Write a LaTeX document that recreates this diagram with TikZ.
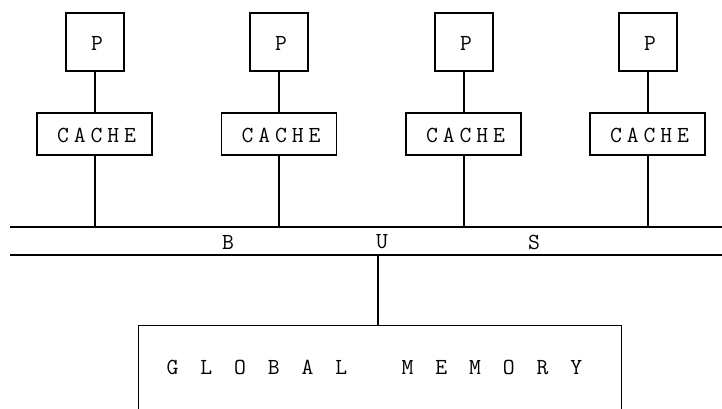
\documentclass[tikz,border=0pt]{standalone}
\usepackage{fontspec}
\newfontfamily\monofam[LetterSpace=21.4]{Latin Modern Mono}
\newfontfamily\widefam[LetterSpace=95.3]{Latin Modern Mono}
\begin{document}
\begin{tikzpicture}[x=1pt,y=-1pt,line width=1.2pt,
  lbl/.style={font=\monofam\fontsize{23}{23}\selectfont,inner sep=0pt},
  widelbl/.style={font=\widefam\fontsize{23}{23}\selectfont,inner sep=0pt,anchor=west},
  pbox/.style={draw,minimum width=58pt,minimum height=58pt},
  cbox/.style={draw,minimum width=115pt,minimum height=42pt}]
\useasboundingbox (0,0) rectangle (722,408);
\clip (0,0) rectangle (722,408);
\foreach \i/\x/\cx in {1/95/94.5,2/279/279,3/464/463.5,4/648/647.5}{
  \node[pbox] (p\i) at (\x,42) {};
  \node[lbl] (pt\i) at (\x+2,43) {P};
  \node[cbox] (c\i) at (\cx,134) {};
  \node[lbl] (ct\i) at (\cx+2,135) {CACHE};
  \coordinate (b\i) at (\x,227);
  \draw (p\i.south) -- (p\i.south |- c\i.north);
  \draw (c\i.south -| p\i.south) -- (b\i);
}
\coordinate (busL1) at (10,227);
\coordinate (busR1) at (722,227);
\coordinate (busL2) at (10,255);
\coordinate (busR2) at (722,255);
\draw (busL1) -- (busR1);
\draw (busL2) -- (busR2);
\node[lbl] (busB) at (228,242) {B};
\node[lbl] (busU) at (382,242) {U};
\node[lbl] (busS) at (534,242) {S};
\node[draw,minimum width=483pt,minimum height=120pt,anchor=north west] (mem) at (138,325) {};
\node[widelbl] (memtextA) at (166,367) {GLOBAL};
\node[widelbl] (memtextB) at (401,367) {MEMORY};
\coordinate (mtop) at (378,255);
\draw (mtop) -- (mtop |- mem.north);
\end{tikzpicture}
\end{document}
